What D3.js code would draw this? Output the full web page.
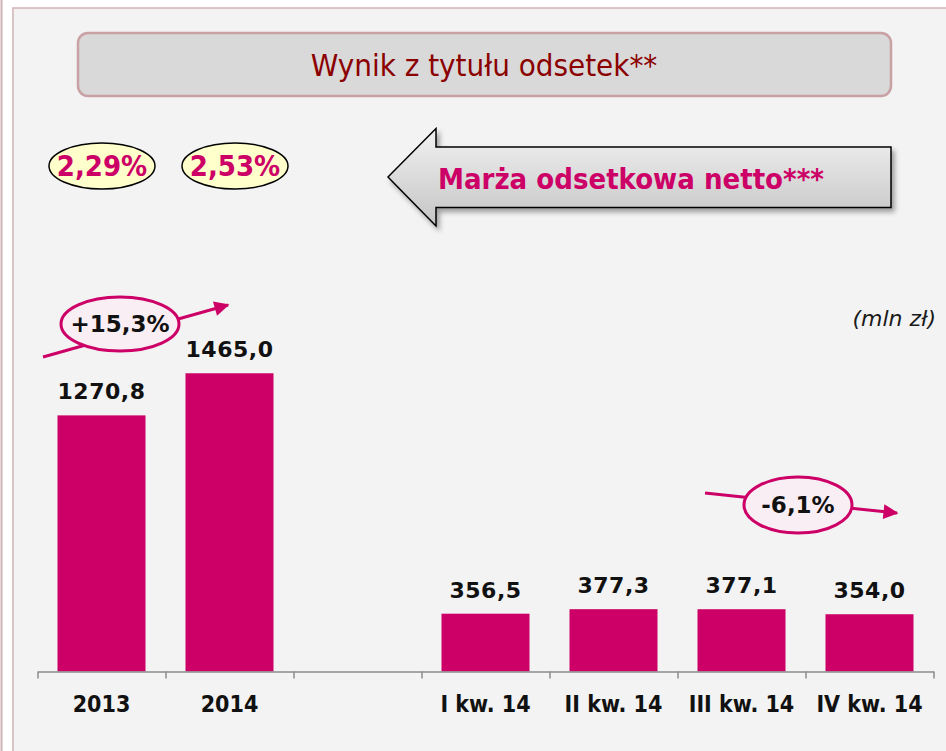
<!DOCTYPE html>
<html>
<head>
<meta charset="utf-8">
<script src="https://cdn.jsdelivr.net/npm/d3@7"></script>
<style>
  html, body { margin: 0; padding: 0; background: #fff; }
  svg { display: block; }
</style>
</head>
<body>
<svg id="chart"></svg>
<script>
(function() {

// data
var categories = ["2013", "2014", "", "I kw. 14", "II kw. 14", "III kw. 14", "IV kw. 14"];
var values = [1270.8, 1465.0, null, 356.5, 377.3, 377.1, 354.0];
var margins = ["2,29%", "2,53%"];
var changes = ["+15,3%", "-6,1%"];
var title = "Wynik z tytułu odsetek**";
var arrowLabel = "Marża odsetkowa netto***";
var unitLabel = "(mln zł)";

var width = 946, height = 751;
var pink = "#cc0066";
var condensed = "'DejaVu Sans Condensed', 'DejaVu Sans', sans-serif";
var wide = "'DejaVu Sans', Verdana, sans-serif";

var svg = d3.select("#chart").attr("width", width).attr("height", height);

var defs = svg.append("defs");
var grad = defs.append("linearGradient").attr("id", "arrowGrad")
  .attr("x1", 0).attr("y1", 0).attr("x2", 0).attr("y2", 1);
grad.append("stop").attr("offset", "0%").attr("stop-color", "#f2f2f2");
grad.append("stop").attr("offset", "100%").attr("stop-color", "#c4c4c4");
var shadow = defs.append("filter").attr("id", "shadow")
  .attr("x", "-10%").attr("y", "-10%").attr("width", "130%").attr("height", "140%");
shadow.append("feDropShadow").attr("dx", 3).attr("dy", 4).attr("stdDeviation", 2.5)
  .attr("flood-color", "#000").attr("flood-opacity", 0.35);
defs.append("marker").attr("id", "head")
  .attr("viewBox", "0 0 10 10").attr("refX", 9).attr("refY", 5)
  .attr("markerWidth", 6).attr("markerHeight", 5).attr("markerUnits", "strokeWidth")
  .attr("orient", "auto")
  .append("path").attr("d", "M0,0L10,5L0,10Z").attr("fill", pink);

// background panel
svg.append("line").attr("x1", 1.5).attr("x2", 1.5).attr("y1", 0).attr("y2", height)
  .attr("stroke", "#cfb2b5").attr("stroke-width", 2);
svg.append("rect").attr("x", 13).attr("y", 8).attr("width", width).attr("height", height)
  .attr("fill", "#f3f3f3").attr("stroke", "#cfb2b5").attr("stroke-width", 1.5);

// title box
svg.append("rect").attr("x", 78).attr("y", 33).attr("width", 813).attr("height", 63)
  .attr("rx", 10).attr("fill", "#d9d9d9").attr("stroke", "#c9a1a4").attr("stroke-width", 2.5);
svg.append("text").attr("x", 484).attr("y", 76).attr("text-anchor", "middle")
  .attr("font-family", condensed).attr("font-size", 31).attr("fill", "#8b0000")
  .text(title);

// margin ovals
var oval = svg.selectAll(".oval").data(margins).enter().append("g")
  .attr("class", "oval")
  .attr("transform", function(d, i) { return "translate(" + (102 + i * 133) + ",166)"; });
oval.append("ellipse").attr("rx", 53).attr("ry", 23)
  .attr("fill", "#ffffcc").attr("stroke", "#000").attr("stroke-width", 1.5);
oval.append("text").attr("y", 10).attr("text-anchor", "middle")
  .attr("font-family", condensed).attr("font-weight", "bold").attr("font-size", 29)
  .attr("fill", pink).text(function(d) { return d; });

// block arrow
var arrowPath = "M388,177L436,128.5L436,147L891,147L891,207.5L436,207.5L436,226Z";
svg.append("path").attr("d", arrowPath)
  .attr("fill", "url(#arrowGrad)").attr("stroke", "#000").attr("stroke-width", 1.5)
  .attr("filter", "url(#shadow)");
svg.append("text").attr("x", 438).attr("y", 189)
  .attr("font-family", condensed).attr("font-weight", "bold").attr("font-size", 29)
  .attr("fill", pink).text(arrowLabel);

// unit
svg.append("text").attr("x", 936).attr("y", 326).attr("text-anchor", "end")
  .attr("font-family", wide).attr("font-style", "italic").attr("font-size", 22)
  .attr("fill", "#1a1a1a").text(unitLabel);

// scales
var x = d3.scaleBand()
  .domain(categories)
  .range([37.5, 933.5])
  .paddingInner(0.3125)
  .paddingOuter(0.15625);

var y = d3.scaleLinear()
  .domain([90, 1800])
  .range([671.5, 300.6]);

var fmt = d3.formatLocale({ decimal: ",", thousands: "", grouping: [3], currency: ["", ""] }).format(".1f");

var g = svg.append("g");

var data = categories.map(function(c, i) { return { cat: c, value: values[i] }; })
  .filter(function(d) { return d.value != null; });

g.selectAll(".bar").data(data).enter().append("rect")
  .attr("class", "bar")
  .attr("x", function(d) { return x(d.cat); })
  .attr("y", function(d) { return y(d.value); })
  .attr("width", x.bandwidth())
  .attr("height", function(d) { return y.range()[0] - y(d.value); })
  .attr("fill", pink);

g.selectAll(".val").data(data).enter().append("text")
  .attr("class", "val")
  .attr("x", function(d) { return x(d.cat) + x.bandwidth() / 2; })
  .attr("y", function(d) { return y(d.value) - 16; })
  .attr("text-anchor", "middle")
  .attr("font-family", wide).attr("font-weight", "bold").attr("font-size", 22)
  .attr("letter-spacing", 0.5)
  .attr("fill", "#111").text(function(d) { return fmt(d.value); });

// axis: tick marks between categories, labels centered
var xi = d3.scaleLinear().domain([0, categories.length]).range(x.range());
var tickAxis = g.append("g").attr("transform", "translate(0," + y.range()[0] + ")")
  .call(d3.axisBottom(xi).tickValues(d3.range(categories.length + 1))
    .tickSize(7).tickSizeOuter(0).tickFormat(""));
tickAxis.selectAll("path, line").attr("stroke", "#8c8c8c").attr("stroke-width", 1.5);

var labelAxis = g.append("g").attr("transform", "translate(0," + y.range()[0] + ")")
  .call(d3.axisBottom(x).tickSize(0).tickPadding(0));
labelAxis.select(".domain").remove();
labelAxis.selectAll("text")
  .attr("dy", null).attr("y", 40)
  .attr("font-family", condensed).attr("font-weight", "bold").attr("font-size", 23)
  .attr("fill", "#111");

// change callouts
var callouts = [
  { label: changes[0], cx: 120, cy: 324, rx: 59, ry: 27, x1: 43, y1: 357, x2: 228, y2: 305 },
  { label: changes[1], cx: 798, cy: 505, rx: 54, ry: 28, x1: 705, y1: 493, x2: 897, y2: 513 }
];
var co = svg.selectAll(".callout").data(callouts).enter().append("g").attr("class", "callout");
co.append("line")
  .attr("x1", function(d) { return d.x1; }).attr("y1", function(d) { return d.y1; })
  .attr("x2", function(d) { return d.x2; }).attr("y2", function(d) { return d.y2; })
  .attr("stroke", pink).attr("stroke-width", 3).attr("marker-end", "url(#head)");
co.append("ellipse")
  .attr("cx", function(d) { return d.cx; }).attr("cy", function(d) { return d.cy; })
  .attr("rx", function(d) { return d.rx; }).attr("ry", function(d) { return d.ry; })
  .attr("fill", "#f9eef3").attr("stroke", pink).attr("stroke-width", 3);
co.append("text")
  .attr("x", function(d) { return d.cx; }).attr("y", function(d) { return d.cy + 8; })
  .attr("text-anchor", "middle")
  .attr("font-family", wide).attr("font-weight", "bold").attr("font-size", 23)
  .attr("fill", "#111").text(function(d) { return d.label; });

})();
</script>
</body>
</html>
